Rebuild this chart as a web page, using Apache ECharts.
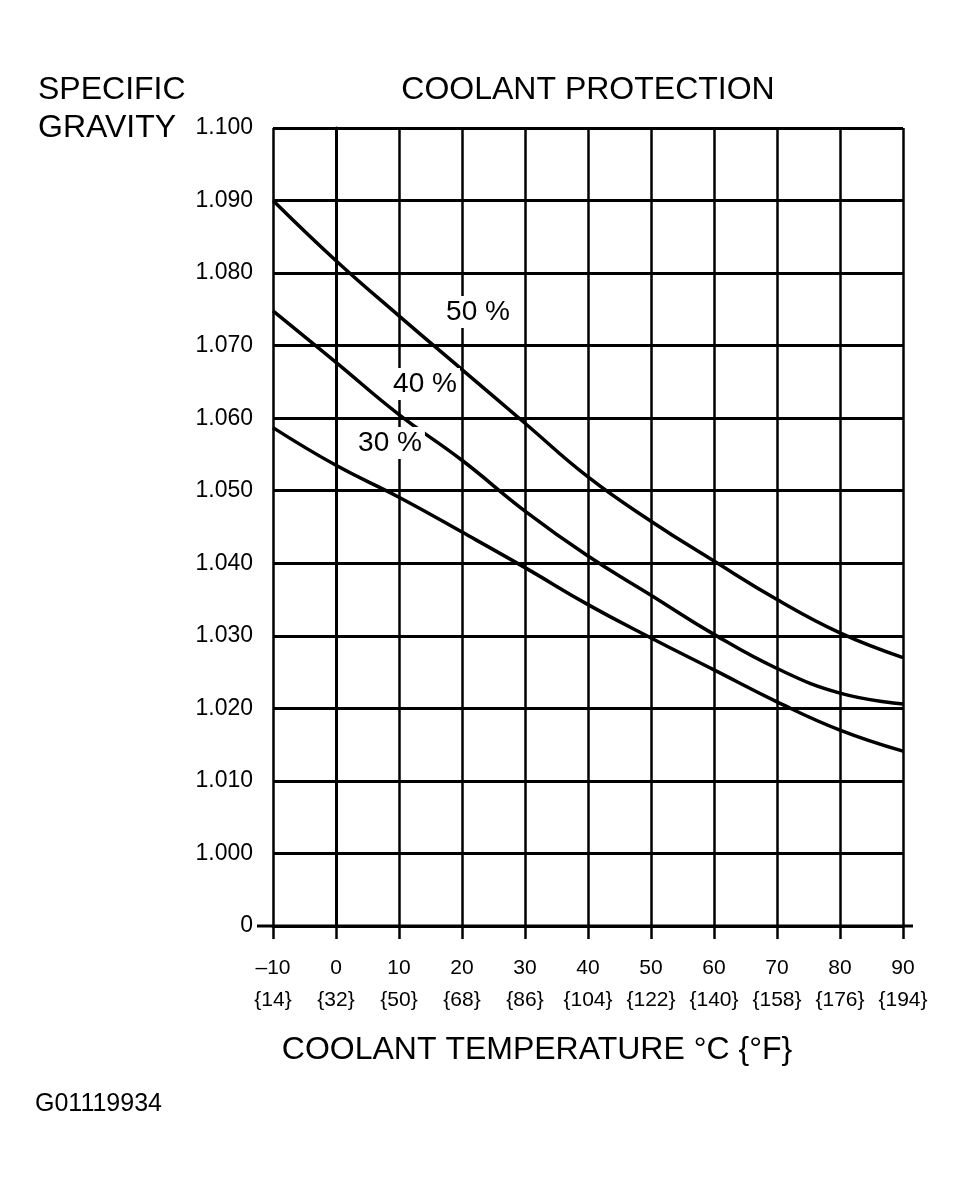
<!DOCTYPE html>
<html>
<head>
<meta charset="utf-8">
<script src="https://cdn.jsdelivr.net/npm/echarts@6/dist/echarts.min.js"></script>
<style>
  html, body { margin: 0; padding: 0; background: #fff; }
  #chart { width: 976px; height: 1186px; }
</style>
</head>
<body>
<div id="chart"></div>
<script>
// coolant temperature (°C) and matching °F labels
var tempsC = [-10, 0, 10, 20, 30, 40, 50, 60, 70, 80, 90];
var tempsF = [14, 32, 50, 68, 86, 104, 122, 140, 158, 176, 194];

// specific gravity
var sg50 = [1.0900, 1.0817, 1.0741, 1.0667, 1.0593, 1.0519, 1.0458, 1.0403, 1.0350, 1.0304, 1.0270];
var sg40 = [1.0748, 1.0677, 1.0605, 1.0542, 1.0472, 1.0410, 1.0356, 1.0302, 1.0255, 1.0221, 1.0206];
var sg30 = [1.0587, 1.0535, 1.0491, 1.0443, 1.0394, 1.0343, 1.0297, 1.0253, 1.0209, 1.0170, 1.0141];

var seriesNames = ['50 %', '40 %', '30 %'];

var font = '"Liberation Sans", Arial, Helvetica, sans-serif';

// y axis runs in thousandths, lowest step is drawn as "0" (broken axis)
function toAxis(list) {
    return list.map(function (v, i) {
        return [tempsC[i], Math.round(v * 10000) / 10];
    });
}

var chart = echarts.init(document.getElementById('chart'));

var lineStyle = { color: '#000', width: 3.5 };

var option = {
    backgroundColor: '#fff',
    animation: false,
    grid: { left: 273, right: 73, top: 128, bottom: 260 },
    xAxis: {
        type: 'value',
        min: -10,
        max: 90,
        interval: 10,
        axisLine: { show: true, lineStyle: { color: '#000', width: 3 } },
        axisTick: { show: true, inside: false, length: 13, lineStyle: { color: '#000', width: 2.5 } },
        axisLabel: {
            color: '#000',
            fontFamily: font,
            fontSize: 21,
            lineHeight: 32,
            margin: 26,
            formatter: function (v) {
                var i = tempsC.indexOf(v);
                var c = v < 0 ? '\u2013' + Math.abs(v) : String(v);
                return c + '\n{' + tempsF[i] + '}';
            }
        },
        splitLine: { show: true, lineStyle: { color: '#000', width: 2.5 } }
    },
    yAxis: {
        type: 'value',
        min: 990,
        max: 1100,
        interval: 10,
        axisLine: { show: true, lineStyle: { color: '#000', width: 3 } },
        axisTick: { show: false },
        axisLabel: {
            color: '#000',
            fontFamily: font,
            fontSize: 23,
            margin: 20,
            formatter: function (v) {
                return v === 990 ? '0' : (v / 1000).toFixed(3);
            }
        },
        splitLine: { show: true, lineStyle: { color: '#000', width: 3 } }
    },
    series: [
        { name: seriesNames[0], type: 'line', smooth: 0.45, symbol: 'none', lineStyle: lineStyle, data: toAxis(sg50), z: 3 },
        { name: seriesNames[1], type: 'line', smooth: 0.45, symbol: 'none', lineStyle: lineStyle, data: toAxis(sg40), z: 3 },
        { name: seriesNames[2], type: 'line', smooth: 0.45, symbol: 'none', lineStyle: lineStyle, data: toAxis(sg30), z: 3 }
    ],
    graphic: [
        // bottom baseline sticks out a little past the grid
        { type: 'line', shape: { x1: 257, y1: 926, x2: 913, y2: 926 }, style: { stroke: '#000', lineWidth: 3 }, z: 5 },
        { type: 'text', left: 38, top: 74, style: { text: 'SPECIFIC', font: '32px ' + font, fill: '#000' } },
        { type: 'text', left: 38, top: 112, style: { text: 'GRAVITY', font: '32px ' + font, fill: '#000' } },
        { type: 'text', x: 588, y: 90, style: { text: 'COOLANT PROTECTION', font: '32px ' + font, fill: '#000', textAlign: 'center', textVerticalAlign: 'middle' } },
        { type: 'text', x: 537, y: 1050, style: { text: 'COOLANT TEMPERATURE \u00b0C {\u00b0F}', font: '32px ' + font, fill: '#000', textAlign: 'center', textVerticalAlign: 'middle' } },
        { type: 'text', left: 35, top: 1092, style: { text: 'G01119934', font: '25px ' + font, fill: '#000' } },
        // curve labels with a white box over the grid
        { type: 'text', x: 478, y: 312, z: 10, style: { text: seriesNames[0], font: '28px ' + font, fill: '#000', textAlign: 'center', textVerticalAlign: 'middle', backgroundColor: '#fff', padding: [2, 3] } },
        { type: 'text', x: 425, y: 384, z: 10, style: { text: seriesNames[1], font: '28px ' + font, fill: '#000', textAlign: 'center', textVerticalAlign: 'middle', backgroundColor: '#fff', padding: [2, 3] } },
        { type: 'text', x: 390, y: 443, z: 10, style: { text: seriesNames[2], font: '28px ' + font, fill: '#000', textAlign: 'center', textVerticalAlign: 'middle', backgroundColor: '#fff', padding: [2, 3] } }
    ]
};

chart.setOption(option);
</script>
</body>
</html>
